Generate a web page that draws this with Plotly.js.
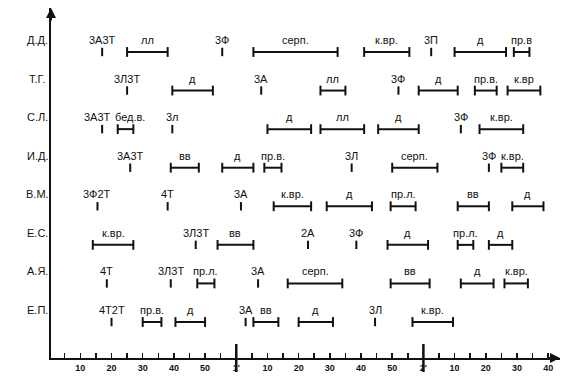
<!DOCTYPE html>
<html>
<head>
<meta charset="utf-8">
<script src="https://cdn.plot.ly/plotly-3.0.1.min.js"></script>
<style>html,body{margin:0;padding:0;background:#fff;}#chart{width:570px;height:376px;}</style>
</head>
<body>
<div id="chart"></div>
<script>
// Row (subject) names, top to bottom
const rowNames = ['Д.Д.', 'Т.Г.', 'С.Л.', 'И.Д.', 'В.М.', 'Е.С.', 'А.Я.', 'Е.П.'];

// Events per row: [label, time in s] for a moment, [label, start s, end s] for an interval
const evDD = [['3А3Т', 17], ['лл', 25, 38], ['3Ф', 55.5], ['серп.', 65.5, 92.5], ['к.вр.', 101, 115.5], ['3П', 122.5], ['д', 130, 146.5], ['пр.в', 149, 154]];
const evTG = [['3Л3Т', 25], ['д', 39.5, 52.5], ['3А', 68], ['лл', 87, 95], ['3Ф', 112], ['д', 118.5, 131], ['пр.в.', 136.5, 143.5], ['к.вр', 147, 157.5]];
const evSL = [['3А3Т', 17], ['бед.в.', 22, 27], ['3л', 39.5], ['д', 70, 84], ['лл', 87, 101], ['д', 105.5, 118.5], ['3Ф', 132], ['к.вр.', 138, 152]];
const evID = [['3А3Т', 26], ['вв', 39, 48], ['д', 55.5, 65.5], ['пр.в.', 69, 74.5], ['3Л', 97], ['серп.', 110, 124.5], ['3Ф', 141], ['к.вр.', 145, 152]];
const evVM = [['3Ф2Т', 15.5], ['4Т', 38], ['3А', 61.5], ['к.вр.', 72, 84], ['д', 89, 103.5], ['пр.л.', 109.5, 117.5], ['вв', 131, 141], ['д', 148.5, 158.5]];
const evES = [['к.вр.', 14, 27], ['3Л3Т', 47], ['вв', 54, 65.5], ['2А', 83], ['3Ф', 98.5], ['д', 108.5, 121.5], ['пр.л.', 131, 136], ['д', 141, 148.5]];
const evAY = [['4Т', 18.5], ['3Л3Т', 39], ['пр.л.', 47.5, 53], ['3А', 67], ['серп.', 76.5, 94], ['вв', 109.5, 122], ['д', 132, 142.5], ['к.вр.', 146, 153.5]];
const evEP = [['4Т2Т', 20], ['пр.в.', 30, 36], ['д', 40.5, 50], ['3А', 63], ['вв', 65.5, 73.5], ['д', 80, 91], ['3Л', 104.5], ['к.вр.', 116.5, 129.5]];

// Time axis ticks (seconds) and their labels
const tickVals = [10, 20, 30, 40, 50, 60, 70, 80, 90, 100, 110, 120, 130, 140, 150, 160];
const tickText = ['10', '20', '30', '40', '50', "1'", '10', '20', '30', '40', '50', "2'", '10', '20', '30', '40'];
const minorVals = [5, 15, 25, 35, 45, 55, 65, 75, 85, 95, 105, 115, 125, 135, 145, 155];
const minuteMarks = [60, 120];

const allRows = [evDD, evTG, evSL, evID, evVM, evES, evAY, evEP];
const nRows = rowNames.length;

const xRange = [0.6, 163.8];
const plotW = 570 - 51 - 10;
const pxPerSec = plotW / (xRange[1] - xRange[0]);
const textW = s => [...s].reduce((a, c) => a + (c === '.' ? 3 : 6.5), 0);

const segX = [], segY = [], capX = [], capY = [], ptX = [], ptY = [];
const annotations = [];
const labelFont = {family: 'Liberation Sans, Arial, sans-serif', size: 11, color: '#111'};
const ink = '#111';

allRows.forEach((events, i) => {
  const yv = nRows - i;
  annotations.push({
    x: 0, xref: 'paper', xshift: -14, y: yv, yref: 'y', yshift: 4,
    yanchor: 'bottom', xanchor: 'center', text: rowNames[i], showarrow: false, font: labelFont
  });
  const labs = [];
  events.forEach(ev => {
    let cx;
    if (ev.length === 3) {
      segX.push(ev[1], ev[2], null); segY.push(yv, yv, null);
      capX.push(ev[1], ev[2]); capY.push(yv, yv);
      cx = (ev[1] + ev[2]) / 2;
    } else {
      ptX.push(ev[1]); ptY.push(yv);
      cx = ev[1];
    }
    labs.push({text: ev[0], cx: cx, shift: 0});
  });
  // push apart labels that would touch
  for (let k = 1; k < labs.length; k++) {
    const a = labs[k - 1], b = labs[k];
    const need = (textW(a.text) + textW(b.text)) / 2 + 3;
    const gap = (b.cx - a.cx) * pxPerSec + b.shift - a.shift;
    if (gap < need) {
      const d = (need - gap) / 2;
      a.shift -= d; b.shift += d;
    }
  }
  labs.forEach(l => annotations.push({
    x: l.cx, y: yv, yshift: 4, xshift: l.shift, yanchor: 'bottom', xanchor: 'center',
    text: l.text, showarrow: false, font: labelFont
  }));
});

// axis arrows
annotations.push({x: 0, y: 1, xref: 'paper', yref: 'paper', ax: 0, ay: 14, text: '', showarrow: true,
  arrowhead: 2, arrowsize: 1, arrowwidth: 2, arrowcolor: ink});
annotations.push({x: 1, y: 0, xref: 'paper', yref: 'paper', ax: -14, ay: 0, text: '', showarrow: true,
  arrowhead: 2, arrowsize: 1, arrowwidth: 2, arrowcolor: ink});

const yMin = 0.067, yMax = 9.14;

const traces = [
  {type: 'scatter', mode: 'lines', x: segX, y: segY, line: {color: ink, width: 2}, hoverinfo: 'skip', showlegend: false},
  {type: 'scatter', mode: 'markers', x: capX, y: capY, marker: {symbol: 'line-ns-open', size: 7, color: ink, line: {color: ink, width: 2}}, hoverinfo: 'skip', showlegend: false},
  {type: 'scatter', mode: 'markers', x: ptX, y: ptY, marker: {symbol: 'line-ns-open', size: 6, color: ink, line: {color: ink, width: 2}}, hoverinfo: 'skip', showlegend: false},
  {type: 'scatter', mode: 'markers', x: minuteMarks, y: minuteMarks.map(() => yMin), cliponaxis: false,
   marker: {symbol: 'line-ns-open', size: 20, color: ink, line: {color: ink, width: 2.5}}, hoverinfo: 'skip', showlegend: false}
];

const layout = {
  width: 570, height: 376,
  margin: {l: 51, r: 10, t: 8, b: 18},
  paper_bgcolor: '#fff', plot_bgcolor: '#fff',
  showlegend: false,
  xaxis: {
    range: xRange, showgrid: false, zeroline: false,
    showline: true, linecolor: ink, linewidth: 2,
    tickmode: 'array', tickvals: tickVals, ticktext: tickText,
    ticks: 'inside', ticklen: 5, tickwidth: 1.5, tickcolor: ink,
    tickfont: {family: 'Liberation Sans Narrow, Arial Narrow, sans-serif', size: 9, color: ink, weight: 'bold'},
    minor: {tickmode: 'array', tickvals: minorVals, ticks: 'inside', ticklen: 5, tickwidth: 1.5, tickcolor: ink, showgrid: false}
  },
  yaxis: {
    range: [yMin, yMax], showgrid: false, zeroline: false,
    showline: true, linecolor: ink, linewidth: 2,
    showticklabels: false, ticks: ''
  },
  annotations: annotations
};

Plotly.newPlot('chart', traces, layout, {displayModeBar: false, staticPlot: true});
</script>
</body>
</html>
